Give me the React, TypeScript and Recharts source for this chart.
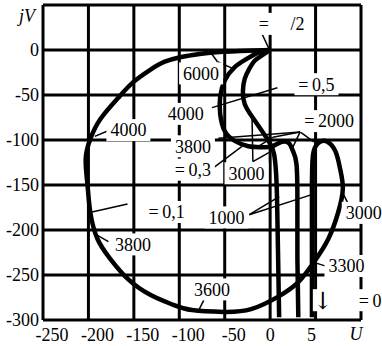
import { LineChart, Line, XAxis, YAxis, CartesianGrid, ReferenceDot, ReferenceLine } from 'recharts'

// U axis: 50 per division left of zero, 5 per division right of zero
const xTickLabels = ['-250', '-200', '-150', '-100', '-50', '0', '5', '']
const yTicks = [-300, -250, -200, -150, -100, -50, 0, 50]

// hodographs, points as [U, jV]
const sigma01: [number, number][] = [
  [0, 0], [-33, -1], [-66, -3], [-88, -6], [-99, -8], [-116, -13], [-132, -22], [-151, -36],
  [-168, -54], [-187, -77], [-198, -99], [-203, -121], [-201, -150], [-198, -180], [-190, -210],
  [-176, -232], [-157, -254], [-132, -272], [-107, -283], [-86, -289], [-51, -291], [-21, -288],
  [0.9, -274], [3.1, -258], [4.8, -236], [6.4, -210], [7.5, -180], [8.0, -154], [7.7, -132],
  [7.2, -113], [6.3, -102], [5.5, -102], [5.0, -107], [4.7, -118], [4.6, -151], [4.6, -221], [4.6, -297],
]
const sigma03: [number, number][] = [
  [0, 0], [-13, -3], [-26, -10], [-39, -19], [-50, -34], [-55, -52], [-55, -71], [-50, -90],
  [-39, -101], [-24, -107], [-9, -108], [0.2, -107], [1.3, -102], [2.1, -104], [2.5, -112],
  [2.9, -127], [3.0, -171], [3.0, -232], [3.1, -297],
]
const sigma05: [number, number][] = [
  [0, 0], [-9, -6], [-17, -12], [-23, -21], [-28, -32], [-30, -46], [-28, -60], [-20, -74],
  [-9, -90], [0, -104], [0.44, -116], [0.66, -138], [0.77, -171], [0.88, -232], [0.99, -297],
]

// frequency marks and curve names
const notes: { text: string; u: number; v: number }[] = [
  { text: '=\u2003\u2009/2', u: 1.27, v: 29 },
  { text: '6000', u: -76, v: -26 },
  { text: '4000', u: -156, v: -89 },
  { text: '4000', u: -93, v: -71 },
  { text: '3800', u: -85, v: -107 },
  { text: '=\u20090,3', u: -85, v: -133 },
  { text: '3000', u: -26, v: -137 },
  { text: '=\u20090,5', u: 5.1, v: -38 },
  { text: '=\u20092000', u: 6.5, v: -79 },
  { text: '=\u20090,1', u: -114, v: -180 },
  { text: '3800', u: -151, v: -216 },
  { text: '1000', u: -48, v: -186 },
  { text: '3000', u: 10.3, v: -181 },
  { text: '3300', u: 8.4, v: -240 },
  { text: '3600', u: -64, v: -266 },
  { text: '\u2193', u: 5.8, v: -278 },
  { text: '=\u20090', u: 11, v: -278 },
]

const leaders: [number, number][][] = [
  [[-9.9, 20], [-1.1, 1]],
  [[-66, -2], [-58, -13], [-40, -21]],
  [[-179, -90], [-193, -96]],
  [[-64, -64], [0.8, -42]],
  [[-57, -98], [3.3, -91]],
  [[3.3, -91], [2.4, -110]],
  [[3.3, -91], [4.8, -102]],
  [[-13, -107], [0.3, -97], [3.3, -91]],
  [[-64, -132], [-31, -107]],
  [[-20, -72], [-19, -124], [0.2, -112]],
  [[-23, -183], [1.0, -163]],
  [[-23, -183], [4.5, -161]],
  [[8.1, -161], [8.6, -171]],
  [[4.8, -236], [6.4, -241]],
  [[-73, -278], [-78, -288]],
  [[-178, -213], [-190, -206]],
  [[-157, -171], [-196, -180]],
]

const toAxis = (u: number) => (u < 0 ? u / 50 : u / 5)
const xTicks = xTickLabels.map((_, i) => i - 5)
const toRows = (pts: [number, number][]) => pts.map(([u, v]) => ({ x: toAxis(u), v }))

const font = 'Liberation Serif'
const fs = 18

const textWidth = (s: string, size: number) => {
  let w = 0
  for (const ch of s) {
    if (ch === ',' || ch === '\u2009') w += 0.25
    else if (ch === '\u2003') w += 1
    else if (ch === '/') w += 0.28
    else w += 0.5
  }
  return w * size
}

const Note = ({ cx, cy, text }: { cx: number; cy: number; text: string }) => {
  const arrow = text === '\u2193'
  const size = arrow ? 24 : fs
  const w = textWidth(text, size)
  return (
    <g>
      <rect x={cx - w / 2 - 4} y={cy - 11} width={w + 8} height={22} fill="#fff" />
      <text x={cx} y={cy} dy="0.35em" textAnchor="middle" fontSize={size}
        fontFamily={arrow ? 'DejaVu Serif' : font} fill="#000">
        {text}
      </text>
    </g>
  )
}

const XTick = ({ x, y, payload }: any) => {
  const v = payload.value as number
  const dx = v < 0 ? 9 : v > 0 ? -4 : 0
  return (
    <text x={x + dx} y={y} dy="0.71em" textAnchor="middle" fontSize={fs} fontFamily={font} fill="#000">
      {xTickLabels[v + 5]}
    </text>
  )
}

const YTick = ({ x, y, payload }: any) => {
  const v = payload.value as number
  return (
    <text x={x} y={y} dy="0.35em" textAnchor="end" fontSize={fs} fontFamily={font} fill="#000">
      {v > 0 ? '' : String(v)}
    </text>
  )
}

export default function App() {
  const curves = [sigma01, sigma03, sigma05]
  return (
    <div style={{ position: 'absolute', left: 0, top: 0, background: '#fff' }}>
      <LineChart width={382} height={346} margin={{ top: 5, right: 21, bottom: 0, left: 0 }}>
        <CartesianGrid stroke="#000" strokeWidth={3} />
        <XAxis
          dataKey="x"
          type="number"
          domain={[-5, 2]}
          ticks={xTicks}
          allowDataOverflow
          height={26}
          axisLine={false}
          tickLine={false}
          tickSize={0}
          tickMargin={8}
          tick={<XTick />}
          label={{
            content: ({ viewBox }: any) => (
              <text x={viewBox.x + viewBox.width - 5} y={viewBox.y + 20} textAnchor="middle"
                fontSize={fs} fontStyle="italic" fontFamily={font} fill="#000">U</text>
            ),
          }}
        />
        <YAxis
          type="number"
          domain={[-300, 50]}
          ticks={yTicks}
          allowDataOverflow
          width={43}
          axisLine={false}
          tickLine={false}
          tickSize={0}
          tickMargin={4}
          tick={<YTick />}
          label={{
            content: ({ viewBox }: any) => (
              <text x={viewBox.x + 27} y={viewBox.y + 17} textAnchor="middle"
                fontSize={fs} fontStyle="italic" fontFamily={font} fill="#000">jV</text>
            ),
          }}
        />
        {notes.map((n, i) => (
          <ReferenceDot
            key={'n' + i}
            x={toAxis(n.u)}
            y={n.v}
            r={0}
            ifOverflow="visible"
            shape={(p: any) => <Note cx={p.cx} cy={p.cy} text={n.text} />}
          />
        ))}
        {leaders.flatMap((pl, i) =>
          pl.slice(1).map((pt, j) => (
            <ReferenceLine
              key={'l' + i + '-' + j}
              segment={[
                { x: toAxis(pl[j][0]), y: pl[j][1] },
                { x: toAxis(pt[0]), y: pt[1] },
              ]}
              stroke="#000"
              strokeWidth={1.5}
              ifOverflow="visible"
            />
          ))
        )}
        {curves.map((c, i) => (
          <Line
            key={'c' + i}
            data={toRows(c)}
            dataKey="v"
            type="natural"
            stroke="#000"
            strokeWidth={4.5}
            dot={false}
            activeDot={false}
            isAnimationActive={false}
          />
        ))}
      </LineChart>
    </div>
  )
}
